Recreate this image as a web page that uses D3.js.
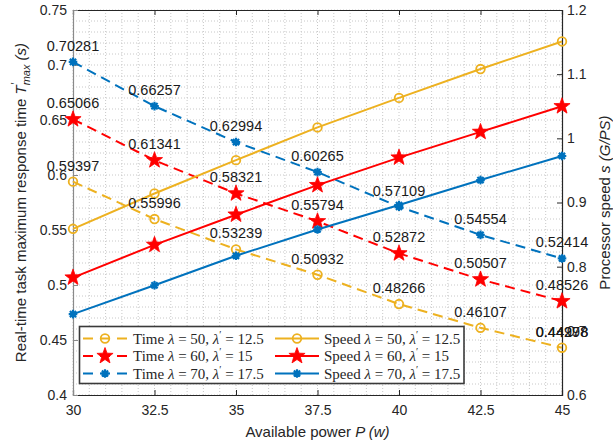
<!doctype html>
<html lang="en">
<head>
    <meta charset="utf-8">
    <title>Response time and processor speed vs available power</title>
    <script src="https://d3js.org/d3.v7.min.js"></script>
    <style>
        body { margin: 0; background: #fff; }
        .tick text { font-family: "Liberation Sans", Arial, sans-serif; font-size: 14px; fill: #262626; }
        .lbl { font-family: "Liberation Sans", Arial, sans-serif; font-size: 15px; fill: #262626; }
        .ann { font-family: "Liberation Sans", Arial, sans-serif; font-size: 14.5px; fill: #1a1a1a; }
        .leg { font-family: "Liberation Serif", "Times New Roman", serif; font-size: 15px; fill: #262626; }
    </style>
</head>
<body>
<script>
    // Data
    const power = [30, 32.5, 35, 37.5, 40, 42.5, 45];

    // response time (left axis)
    const time50 = [0.59397, 0.55996, 0.53239, 0.50932, 0.48266, 0.46107, 0.44298];
    const time60 = [0.65066, 0.61341, 0.58321, 0.55794, 0.52872, 0.50507, 0.48526];
    const time70 = [0.70281, 0.66257, 0.62994, 0.60265, 0.57109, 0.54554, 0.52414];

    // processor speed (right axis)
    const speed50 = [0.859, 0.914, 0.966, 1.017, 1.063, 1.108, 1.151];
    const speed60 = [0.783, 0.834, 0.881, 0.927, 0.970, 1.010, 1.050];
    const speed70 = [0.726, 0.771, 0.817, 0.858, 0.896, 0.935, 0.9725];

    const xTicks = [30, 32.5, 35, 37.5, 40, 42.5, 45];
    const leftTicks = [0.4, 0.45, 0.5, 0.55, 0.6, 0.65, 0.7, 0.75];
    const rightTicks = [0.6, 0.7, 0.8, 0.9, 1.0, 1.1, 1.2];

    const lambdas = ["50", "60", "70"];
    const lambdaPrimes = ["12.5", "15", "17.5"];

    // Dimensions
    const width = 613, height = 447;
    const pLeft = 73, pRight = 562, pTop = 10, pBottom = 395;

    const yellow = "#EDB120", red = "#FF0000", blue = "#0072BD";

    const svg = d3.select("body").append("svg")
        .attr("width", width)
        .attr("height", height);

    const x = d3.scaleLinear().domain([30, 45]).range([pLeft, pRight]);
    const yL = d3.scaleLinear().domain([0.4, 0.75]).range([pBottom, pTop]);
    const yR = d3.scaleLinear().domain([0.6, 1.2]).range([pBottom, pTop]);

    // Grid (dotted, every 0.5 in x and 0.01 on the left axis)
    const grid = svg.append("g").attr("stroke", "#c8c8c8").attr("stroke-width", 1).attr("stroke-dasharray", "1,2");
    d3.range(30, 45.001, 0.5).forEach(v => {
        grid.append("line").attr("x1", x(v)).attr("x2", x(v)).attr("y1", pTop).attr("y2", pBottom);
    });
    d3.range(0.4, 0.7501, 0.01).forEach(v => {
        grid.append("line").attr("x1", pLeft).attr("x2", pRight).attr("y1", yL(v)).attr("y2", yL(v));
    });

    // Axes
    const fmt = d => String(+d.toFixed(2));

    svg.append("g").attr("transform", `translate(0,${pBottom})`)
        .call(d3.axisBottom(x).tickValues(xTicks).tickSize(-5).tickPadding(10).tickFormat(d => String(d)))
        .call(g => g.selectAll("line, path").attr("stroke", "#262626"));
    svg.append("g").attr("transform", `translate(0,${pTop})`)
        .call(d3.axisTop(x).tickValues(xTicks).tickSize(-5).tickFormat(""))
        .call(g => g.selectAll("line, path").attr("stroke", "#262626"));
    svg.append("g").attr("transform", `translate(${pLeft},0)`)
        .call(d3.axisLeft(yL).tickValues(leftTicks).tickSize(-5).tickPadding(6).tickFormat(fmt))
        .call(g => g.selectAll("line, path").attr("stroke", "#8a8a8a"));
    svg.append("g").attr("transform", `translate(${pRight},0)`)
        .call(d3.axisRight(yR).tickValues(rightTicks).tickSize(-5).tickPadding(5).tickFormat(fmt))
        .call(g => g.selectAll("line, path").attr("stroke", "#262626"));
    svg.selectAll(".domain").attr("stroke-width", 1.2);

    // Markers
    function starPath(R, r) {
        let p = "";
        for (let i = 0; i < 10; i++) {
            const a = -Math.PI / 2 + i * Math.PI / 5;
            const rad = i % 2 === 0 ? R : r;
            p += (i === 0 ? "M" : "L") + (rad * Math.cos(a)).toFixed(2) + "," + (rad * Math.sin(a)).toFixed(2);
        }
        return p + "Z";
    }
    function drawMarker(g, type, color, cx, cy) {
        const m = g.append("g").attr("transform", `translate(${cx},${cy})`);
        if (type === "o") {
            m.append("circle").attr("r", 4.3).attr("fill", "none").attr("stroke", color).attr("stroke-width", 1.8);
        } else if (type === "p") {
            m.append("path").attr("d", starPath(8.5, 3.5)).attr("fill", color).attr("stroke", color).attr("stroke-width", 0.8);
        } else {
            const s = 4.3;
            m.append("path")
                .attr("d", `M${-s},0L${s},0M0,${-s}L0,${s}M${-s*0.72},${-s*0.72}L${s*0.72},${s*0.72}M${-s*0.72},${s*0.72}L${s*0.72},${-s*0.72}`)
                .attr("stroke", color).attr("stroke-width", 2.2);
            m.append("circle").attr("r", 2.6).attr("fill", color);
        }
    }

    const series = [
        { vals: time50, axis: yL, color: yellow, dash: "10,6", marker: "o" },
        { vals: time60, axis: yL, color: red, dash: "10,6", marker: "p" },
        { vals: time70, axis: yL, color: blue, dash: "10,6", marker: "*" },
        { vals: speed50, axis: yR, color: yellow, dash: null, marker: "o" },
        { vals: speed60, axis: yR, color: red, dash: null, marker: "p" },
        { vals: speed70, axis: yR, color: blue, dash: null, marker: "*" }
    ];

    const plot = svg.append("g");
    series.forEach(s => {
        const pts = power.map((p, i) => [p, s.vals[i]]);
        plot.append("path")
            .datum(pts)
            .attr("fill", "none")
            .attr("stroke", s.color)
            .attr("stroke-width", 2)
            .attr("stroke-dasharray", s.dash)
            .attr("d", d3.line().x(d => x(d[0])).y(d => s.axis(d[1])));
        pts.forEach(d => drawMarker(plot, s.marker, s.color, x(d[0]), s.axis(d[1])));
    });

    // Value labels on the response-time curves
    const annot = svg.append("g");
    [time50, time60, time70].forEach(vals => {
        vals.forEach((v, i) => {
            annot.append("text").attr("class", "ann")
                .attr("x", x(power[i])).attr("y", yL(v) - 11)
                .attr("text-anchor", "middle")
                .text(v.toFixed(5));
        });
    });
    // second label drawn on top of the last one, as in the figure
    annot.append("text").attr("class", "ann")
        .attr("x", x(45)).attr("y", yL(time50[6]) - 11)
        .attr("text-anchor", "middle")
        .text("0.44978");

    // Axis labels
    svg.append("text").attr("class", "lbl")
        .attr("x", (pLeft + pRight) / 2).attr("y", 437)
        .attr("text-anchor", "middle")
        .call(t => {
            t.append("tspan").text("Available power ");
            t.append("tspan").attr("font-style", "italic").text("P (w)");
        });

    svg.append("text").attr("class", "lbl")
        .attr("transform", `translate(21,${(pTop + pBottom) / 2}) rotate(-90)`)
        .attr("dy", "0.35em")
        .attr("text-anchor", "middle")
        .call(t => {
            t.append("tspan").text("Real-time task maximum response time ");
            t.append("tspan").attr("font-style", "italic").text("T");
            t.append("tspan").attr("font-size", "11px").attr("dy", -7).attr("dx", 1).text("′");
            t.append("tspan").attr("font-size", "11px").attr("font-style", "italic").attr("dy", 11).attr("dx", -3).text("max");
            t.append("tspan").attr("font-style", "italic").attr("dy", -4).text(" (s)");
        });

    svg.append("text").attr("class", "lbl")
        .attr("transform", `translate(605,${(pTop + pBottom) / 2}) rotate(-90)`)
        .attr("dy", "0.35em")
        .attr("text-anchor", "middle")
        .call(t => {
            t.append("tspan").text("Processor speed ");
            t.append("tspan").attr("font-style", "italic").text("s (G/PS)");
        });

    // Legend
    const leg = svg.append("g");
    leg.append("rect")
        .attr("x", 79.5).attr("y", 326.5).attr("width", 384.5).attr("height", 57)
        .attr("fill", "#fff").attr("stroke", "#3a3a3a").attr("stroke-width", 1.6);

    const rowsY = [338.5, 356, 373.5];
    const markers = ["o", "p", "*"];
    const colors = [yellow, red, blue];
    const cols = [
        { x0: 83, name: "Time", dash: "10,7", tx: 133 },
        { x0: 275, name: "Speed", dash: null, tx: 324 }
    ];

    function legendText(g, tx, ty, name, lam, lamP) {
        const t = g.append("text").attr("class", "leg").attr("x", tx).attr("y", ty + 5);
        t.append("tspan").text(name + " ");
        t.append("tspan").attr("font-style", "italic").text("λ");
        t.append("tspan").text(" = " + lam + ", ");
        t.append("tspan").attr("font-style", "italic").text("λ");
        t.append("tspan").attr("font-size", "10px").attr("dy", -6).text("′");
        t.append("tspan").attr("dy", 6).text(" = " + lamP);
    }

    cols.forEach(c => {
        rowsY.forEach((ry, i) => {
            leg.append("line")
                .attr("x1", c.x0).attr("x2", c.x0 + 44)
                .attr("y1", ry).attr("y2", ry)
                .attr("stroke", colors[i]).attr("stroke-width", 2)
                .attr("stroke-dasharray", c.dash);
            drawMarker(leg, markers[i], colors[i], c.x0 + 22, ry);
            legendText(leg, c.tx, ry, c.name, lambdas[i], lambdaPrimes[i]);
        });
    });
</script>
</body>
</html>
